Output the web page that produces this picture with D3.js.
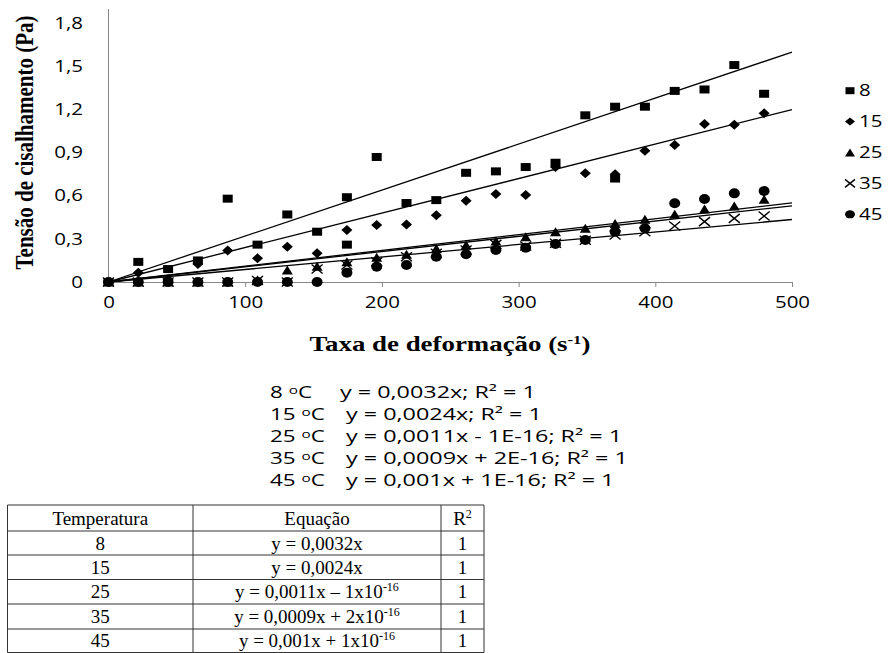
<!DOCTYPE html>
<html>
<head>
<meta charset="utf-8">
<script src="https://cdn.jsdelivr.net/npm/d3@7"></script>
<style>
  body { margin: 0; background: #fff; }
  svg { display: block; }
</style>
</head>
<body>
<div id="chart"></div>
<script>
// shear rate (s-1) and shear stress (Pa) per temperature
const shearRate = [0, 21.8, 43.6, 65.4, 87.2, 109, 130.8, 152.6, 174.4, 196.2, 218, 239.8,
                   261.6, 283.4, 305.2, 327, 348.8, 370.6, 392.4, 414.2, 436, 457.8, 479.6];
const stress8  = [0, 0.14, 0.09, 0.15, 0.58, 0.26, 0.47, 0.35, 0.59, 0.87, 0.55, 0.57,
                  0.76, 0.77, 0.80, 0.83, 1.16, 1.22, 1.22, 1.33, 1.34, 1.51, 1.31];
const stress15 = [0, 0.065, 0.02, 0.125, 0.22, 0.165, 0.246, 0.2, 0.362, 0.397, 0.401, 0.464,
                  0.566, 0.612, 0.605, 0.80, 0.756, 0.75, 0.914, 0.953, 1.10, 1.095, 1.174];
const stress25 = [0, 0, 0, 0, 0, 0.015, 0.083, 0.11, 0.141, 0.172, 0.193, 0.234,
                  0.257, 0.285, 0.315, 0.35, 0.374, 0.408, 0.436, 0.471, 0.508, 0.529, 0.576];
const stress35 = [0, 0, 0, 0, 0, 0.01, 0, 0.09, 0.118, 0.14, 0.176, 0.2,
                  0.223, 0.262, 0.25, 0.27, 0.29, 0.327, 0.35, 0.39, 0.42, 0.443, 0.459];
const stress45 = [0, 0, 0, 0, 0, 0, 0, 0, 0.065, 0.107, 0.118, 0.176,
                  0.193, 0.223, 0.239, 0.265, 0.292, 0.35, 0.374, 0.548, 0.578, 0.617, 0.633];
// repeated readings at 8 ºC
const extraRate8 = [174.4, 370.6];
const extraStress8 = [0.26, 0.72];

const temps = [8, 15, 25, 35, 45];
const markers = ["square", "diamond", "triangle", "cross", "circle"];
const fitSlopes = [0.0032, 0.0024, 0.0011, 0.00087, 0.00106];
const chartEquations = [
  "y = 0,0032x; R² = 1",
  "y = 0,0024x; R² = 1",
  "y = 0,0011x - 1E-16; R² = 1",
  "y = 0,0009x + 2E-16; R² = 1",
  "y = 0,001x + 1E-16; R² = 1"
];
const yTicks = [0, 0.3, 0.6, 0.9, 1.2, 1.5, 1.8];
const xTicks = [0, 100, 200, 300, 400, 500];

// table under the chart
const tableHeader = ["Temperatura", "Equação", "R"];
const tableEqBase = ["y = 0,0032x", "y = 0,0024x", "y = 0,0011x – 1x10", "y = 0,0009x + 2x10", "y = 0,001x + 1x10"];
const tableEqExp = ["", "", "-16", "-16", "-16"];
const tableR2 = [1, 1, 1, 1, 1];

const width = 889, height = 653;
const stretch = 1.28; // the chart picture is wider than its fonts

const series = [stress8, stress15, stress25, stress35, stress45].map((ys, i) => {
  const pts = shearRate.map((x, j) => ({ x: x, y: ys[j] }));
  if (i === 0) extraRate8.forEach((x, j) => pts.push({ x: x, y: extraStress8[j] }));
  return { temp: temps[i], marker: markers[i], slope: fitSlopes[i], points: pts };
});

const svg = d3.select("#chart").append("svg")
  .attr("width", width)
  .attr("height", height);

const x = d3.scaleLinear().domain([0, 500]).range([108.5, 792]);
const y = d3.scaleLinear().domain([0, 1.9]).range([282, 9]);

function markerPath(type, w, h) {
  const a = w / 2, b = h / 2;
  switch (type) {
    case "square": return `M${-a},${-b}H${a}V${b}H${-a}Z`;
    case "diamond": return `M0,${-b}L${a},0L0,${b}L${-a},0Z`;
    case "triangle": return `M0,${-b}L${a},${b}L${-a},${b}Z`;
    case "cross": return `M${-a},${-b}L${a},${b}M${a},${-b}L${-a},${b}`;
    default: return `M${-a},0A${a},${b} 0 1,0 ${a},0A${a},${b} 0 1,0 ${-a},0Z`;
  }
}
const markerSize = {
  square: [10, 8], diamond: [11, 10], triangle: [11, 9], cross: [11, 9], circle: [11, 10]
};

function styleMarker(sel) {
  sel.attr("fill", d => d.marker === "cross" ? "none" : "#000")
    .attr("stroke", d => d.marker === "cross" ? "#000" : "none")
    .attr("stroke-width", 1.4);
}

// axes
const xAxis = svg.append("g")
  .attr("transform", `translate(0,${y(0)})`)
  .call(d3.axisBottom(x).tickValues(xTicks).tickSize(5).tickPadding(10).tickSizeOuter(0));
const yAxis = svg.append("g")
  .attr("transform", `translate(${x(0)},0)`)
  .call(d3.axisLeft(y).tickValues(yTicks).tickSize(0)
    .tickFormat(d => d === 0 ? "0" : d3.format(".1f")(d).replace(".", ",")));
yAxis.select(".domain").attr("d", `M0,${y(1.9)}V${y(0)}`);

[xAxis, yAxis].forEach(g => {
  g.selectAll(".domain, .tick line").attr("stroke", "#868686").attr("stroke-width", 1);
  g.selectAll("text")
    .style("font-family", "'Open Sans', sans-serif")
    .style("font-size", "16px")
    .attr("fill", "#000");
});
xAxis.selectAll("text").attr("transform", `scale(${stretch},1)`);
yAxis.selectAll("text").attr("x", 0).attr("transform", `translate(-25.5,0) scale(${stretch},1)`);

// trend lines
svg.append("g")
  .selectAll("line")
  .data(series)
  .join("line")
  .attr("x1", x(0)).attr("y1", y(0))
  .attr("x2", x(500)).attr("y2", d => y(d.slope * 500))
  .attr("stroke", "#000")
  .attr("stroke-width", 1.3);

// markers
series.forEach(s => {
  svg.append("g")
    .selectAll("path")
    .data(s.points.map(p => ({ x: p.x, y: p.y, marker: s.marker })))
    .join("path")
    .attr("transform", d => `translate(${x(d.x)},${y(d.y)})`)
    .attr("d", d => markerPath(d.marker, ...markerSize[d.marker]))
    .call(styleMarker);
});

// legend
const legend = svg.append("g").selectAll("g")
  .data(series)
  .join("g")
  .attr("transform", (d, i) => `translate(850,${90.7 + i * 30.9})`);
legend.append("path")
  .attr("d", d => markerPath(d.marker, d.marker === "square" ? 9 : 10, d.marker === "square" ? 7 : 8))
  .call(styleMarker);
legend.append("text")
  .attr("transform", `translate(9,0) scale(${stretch},1)`)
  .attr("dy", "0.35em")
  .style("font-family", "'Open Sans', sans-serif")
  .style("font-size", "16px")
  .text(d => d.temp);

// axis titles
svg.append("text")
  .attr("transform", `translate(25,142.5) scale(1.15,1) rotate(-90)`)
  .attr("text-anchor", "middle")
  .attr("dy", "0.35em")
  .style("font-family", "'Liberation Serif', serif")
  .style("font-weight", "bold")
  .style("font-size", "21px")
  .text("Tensão de cisalhamento (Pa)");

const xTitle = svg.append("text")
  .attr("transform", `translate(450,344) scale(${stretch},1)`)
  .attr("text-anchor", "middle")
  .attr("dy", "0.35em")
  .style("font-family", "'Liberation Serif', serif")
  .style("font-weight", "bold")
  .style("font-size", "21px");
xTitle.append("tspan").text("Taxa de deformação (s");
xTitle.append("tspan").attr("dy", -7).style("font-size", "13px").text("-1");
xTitle.append("tspan").attr("dy", 7).text(")");

// equations under the chart
const eqs = svg.append("g").selectAll("g")
  .data(temps)
  .join("g")
  .attr("transform", (d, i) => `translate(270,${392 + i * 22})`);
const eqLabel = eqs.append("text")
  .attr("transform", "scale(1.4,1)")
  .attr("dy", "0.35em")
  .style("font-family", "'Open Sans', sans-serif")
  .style("font-size", "16px");
eqLabel.append("tspan").text(d => d + " ");
eqLabel.append("tspan").attr("dy", -4).style("font-size", "11px").text("o");
eqLabel.append("tspan").attr("dy", 4).text("C");
eqs.append("text")
  .attr("transform", (d, i) => `translate(${i === 0 ? 70 : 76},0) scale(1.46,1)`)
  .attr("dy", "0.35em")
  .style("font-family", "'Open Sans', sans-serif")
  .style("font-size", "16px")
  .text((d, i) => chartEquations[i]);

// table
const colX = [7.5, 193, 441, 484];
const rowY = [505, 531, 555, 579.5, 604, 629, 652.5];
const table = svg.append("g");
table.selectAll("line.h")
  .data(rowY)
  .join("line")
  .attr("x1", colX[0]).attr("x2", colX[3])
  .attr("y1", d => d).attr("y2", d => d)
  .attr("stroke", "#333");
table.selectAll("line.v")
  .data(colX)
  .join("line")
  .attr("x1", d => d).attr("x2", d => d)
  .attr("y1", rowY[0]).attr("y2", rowY[rowY.length - 1])
  .attr("stroke", "#333");

const cellFont = sel => sel
  .attr("text-anchor", "middle")
  .attr("dy", "0.35em")
  .style("font-family", "'Liberation Serif', serif")
  .style("font-size", "19px")
  .attr("fill", "#000");
const colMid = i => (colX[i] + colX[i + 1]) / 2;
const rowMid = i => (rowY[i] + rowY[i + 1]) / 2;

tableHeader.forEach((h, c) => {
  const t = table.append("text").attr("x", colMid(c)).attr("y", rowMid(0)).call(cellFont);
  t.append("tspan").text(h);
  if (c === 2) t.append("tspan").attr("dy", -7).style("font-size", "12px").text("2");
});
temps.forEach((tp, r) => {
  table.append("text").attr("x", colMid(0)).attr("y", rowMid(r + 1)).call(cellFont).text(tp);
  const e = table.append("text").attr("x", colMid(1)).attr("y", rowMid(r + 1)).call(cellFont);
  e.append("tspan").text(tableEqBase[r]);
  if (tableEqExp[r]) e.append("tspan").attr("dy", -7).style("font-size", "12px").text(tableEqExp[r]);
  table.append("text").attr("x", colMid(2)).attr("y", rowMid(r + 1)).call(cellFont).text(tableR2[r]);
});
</script>
</body>
</html>
